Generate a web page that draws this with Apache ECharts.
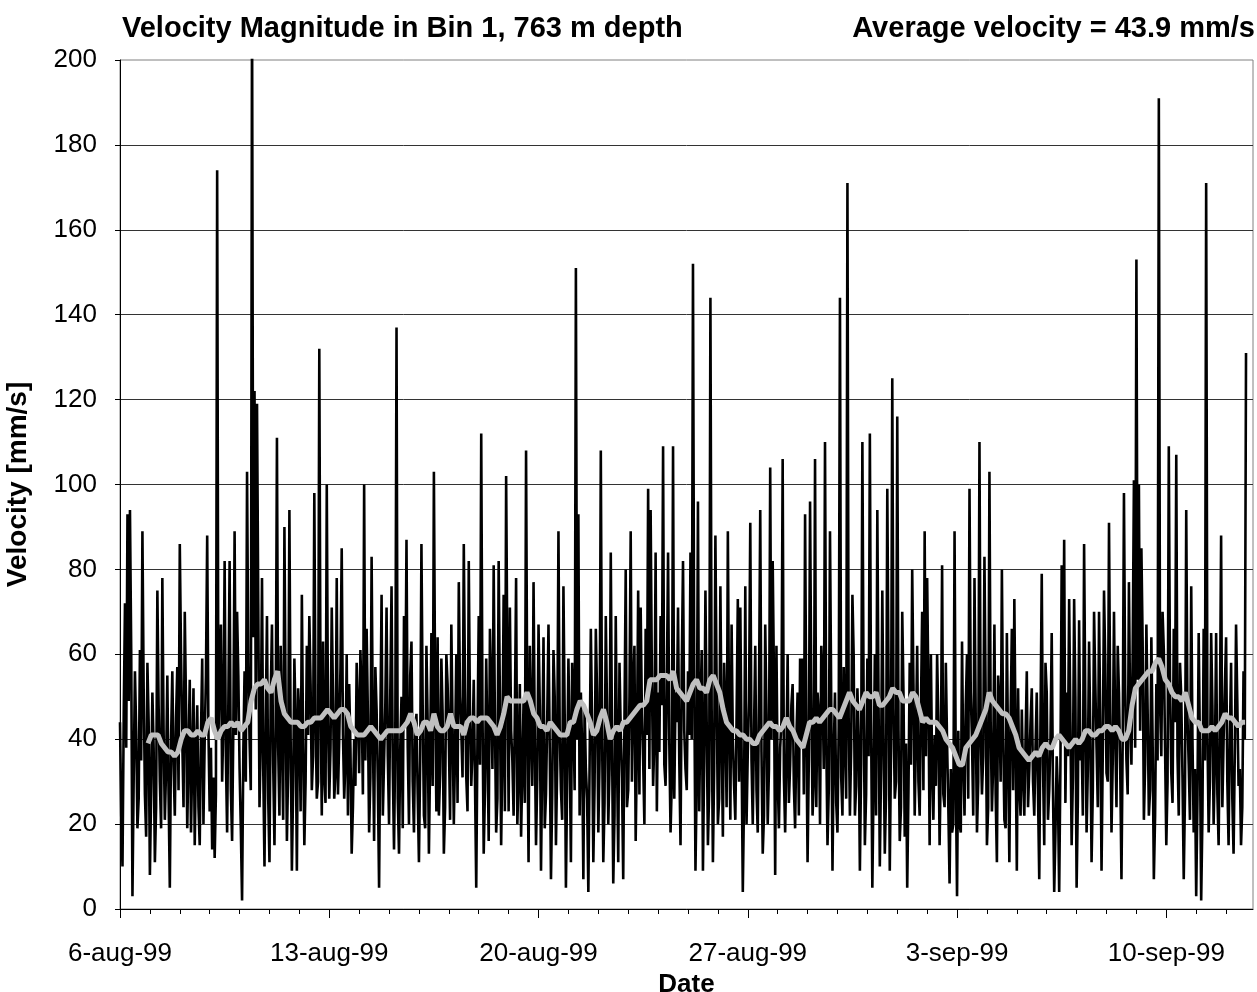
<!DOCTYPE html>
<html>
<head>
<meta charset="utf-8">
<script src="https://cdn.jsdelivr.net/npm/echarts@6/dist/echarts.min.js"></script>
<style>
html,body{margin:0;padding:0;background:#fff;}
#chart{width:1257px;height:992px;}
</style>
</head>
<body>
<div id="chart"></div>
<script>
// ---- data ----
const titleLeft = 'Velocity Magnitude in Bin 1, 763 m depth';
const titleRight = 'Average velocity = 43.9 mm/s';
const xName = 'Date';
const yName = 'Velocity [mm/s]';

// tick labels (days after 6-aug-99)
const weekTicks = [0, 7, 14, 21, 28, 35];
const weekLabels = ['6-aug-99', '13-aug-99', '20-aug-99', '27-aug-99', '3-sep-99', '10-sep-99'];
const xMaxDay = 37.9;

// hourly velocity (mm/s) from 6-aug-99 00:00, split into even and odd hours
const hourDay = 1 / 24;
const velocityEvenHours = [
  44,10,72,93,94,3,56,19,61,89,27,58,8,51,11,75,30,78,21,55,5,56,22,57,86,40,70,19,54,35,15,48,15,59,40,88,23,14,12,174,56,30,82,18,82,16,
  89,70,33,2,56,103,40,215,122,119,24,78,10,69,11,67,15,111,22,40,90,16,94,9,59,9,45,74,15,62,69,28,98,26,132,22,31,100,26,71,26,78,40,85,26,60,
  53,13,40,58,32,49,100,66,18,83,16,47,5,74,35,71,20,76,14,137,13,50,69,87,20,63,18,46,11,86,22,62,13,65,103,23,22,59,13,60,40,67,20,60,77,42,
  86,31,82,29,54,5,69,112,13,59,16,51,81,18,82,15,74,102,23,42,22,78,32,17,49,108,11,44,77,15,67,9,64,27,67,7,61,15,89,28,76,5,59,11,46,151,
  93,51,7,33,4,66,11,66,18,108,11,69,20,84,6,69,11,42,7,80,28,89,52,16,75,71,35,66,99,94,29,84,51,69,109,29,84,18,109,51,71,15,82,33,56,
  84,152,9,96,46,9,75,15,144,11,88,20,76,17,46,89,21,40,21,73,71,4,76,37,91,20,62,18,94,13,67,20,104,82,8,31,38,106,18,60,34,53,19,51,59,
  59,93,11,96,22,106,51,20,53,110,15,89,9,51,18,144,22,39,171,22,74,22,52,9,110,15,59,112,5,60,94,10,75,13,99,9,125,26,116,16,70,17,5,58,80,
  22,62,22,70,89,78,15,33,41,60,15,81,24,39,6,18,89,3,20,63,22,60,99,40,78,18,110,27,83,15,103,23,67,11,48,80,21,65,11,66,73,9,29,47,22,
  56,33,52,22,51,7,79,15,51,28,65,4,36,4,81,87,51,73,15,73,5,68,40,86,18,63,11,70,38,70,9,75,32,91,18,70,24,51,7,98,35,77,34,101,153,
  100,85,21,67,22,64,7,53,191,36,61,15,109,32,66,107,22,50,7,94,34,76,18,3,65,2,66,171,18,65,20,65,15,88,40,64,15,58,13,67,29,15,56,131
];
const velocityOddHours = [
  22,46,38,49,61,31,42,26,35,52,17,44,28,38,24,48,19,42,33,27,40,34,45,28,60,24,48,37,18,52,36,24,41,20,55,42,38,31,27,40,67,44,36,49,28,43,
  41,55,19,37,30,58,28,64,47,72,40,33,45,26,50,34,43,38,62,21,47,33,40,29,44,52,23,39,30,41,53,36,45,30,49,63,25,44,38,50,32,27,57,41,35,22,
  38,24,29,47,61,27,35,46,31,42,57,30,43,22,48,36,51,33,40,26,38,19,44,38,55,30,41,27,35,48,19,44,36,29,51,64,32,46,24,53,21,43,37,25,50,31,
  52,23,45,38,30,41,34,47,28,39,66,33,44,26,49,37,23,58,71,35,46,20,53,33,25,44,62,29,40,31,48,36,19,45,38,27,50,34,42,21,46,31,39,58,28,40,
  22,38,48,26,34,44,29,51,35,42,25,47,33,40,22,36,58,31,45,24,50,30,62,38,27,46,20,41,33,55,40,23,37,48,34,52,39,30,26,44,35,57,42,28,41,
  40,55,30,23,61,35,44,28,47,33,52,26,41,58,24,43,67,29,45,30,38,26,20,49,35,42,28,51,37,22,46,33,40,55,62,19,44,31,36,25,48,29,40,22,38,
  27,44,35,51,30,24,46,62,33,40,28,49,37,25,43,31,57,26,45,38,60,29,41,34,50,27,36,44,30,22,48,33,41,27,55,38,47,30,42,24,51,39,28,34,53,
  40,30,47,28,36,52,60,21,29,44,35,27,58,24,33,20,31,42,18,35,48,26,51,22,45,30,41,36,49,24,44,34,27,55,30,42,19,36,45,28,40,52,22,31,40,
  24,44,30,38,27,45,34,58,21,40,29,18,27,34,40,25,36,44,31,50,26,35,22,47,33,41,28,53,24,44,37,58,30,46,35,41,62,33,40,52,27,45,60,38,54,
  42,63,34,47,28,40,22,35,48,70,38,30,52,25,44,36,58,31,27,45,21,40,33,26,38,22,35,42,30,48,35,27,44,24,52,30,41,26,37,49,33,24,40
];

// running average (grey line)
const avgStartDay = 0.937;
const avgStepDay = 0.11121;
const runningAvg = [
  39,41,41,41,39,38,37,37,36,37,40,42,42,41,41,42,41,41,44,45,42,40,42,43,43,
  44,43,44,42,43,44,49,52,53,53,54,52,51,54,56,49,46,45,44,44,44,43,43,44,44,45,45,45,46,47,46,45,46,47,
  47,46,43,42,41,41,41,42,43,42,41,40,41,42,42,42,42,42,43,44,46,44,41,42,44,44,42,46,43,42,42,43,46,43,
  43,43,41,44,45,45,44,45,45,45,44,43,41,43,46,50,49,49,49,49,49,51,49,46,45,43,43,42,44,43,42,41,41,41,
  44,44,47,49,48,46,44,41,42,45,47,44,40,42,43,42,44,44,45,46,47,48,48,49,54,54,54,55,55,55,54,56,52,51,
  50,49,51,53,54,52,52,51,54,55,53,51,47,44,43,42,42,41,41,40,40,39,39,41,42,43,44,43,43,42,43,45,43,42,
  40,39,38,41,44,44,45,44,45,46,47,47,46,45,47,49,51,49,48,47,49,51,50,50,51,48,48,49,50,52,51,51,49,49,
  49,51,50,47,44,45,44,44,44,43,42,40,39,38,36,34,34,38,39,40,41,43,45,47,51,49,48,47,46,46,45,43,41,38,
  37,36,35,36,37,36,38,39,38,38,40,41,40,39,38,39,40,39,40,42,42,41,41,42,42,43,43,42,43,42,40,40,42,48,
  52,53,54,55,56,56,58,59,57,54,53,51,50,50,49,51,48,45,44,44,42,42,42,43,42,43,44,46,45,45,44,43,44,44
];

// ---- chart ----
const FONT = 'Liberation Sans, Arial, sans-serif';
const dayTicks = [];
for (let d = 0; d <= Math.floor(xMaxDay); d++) dayTicks.push(d);

const velData = [];
velocityEvenHours.forEach((v, i) => {
  velData.push([2 * i * hourDay, v]);
  if (i < velocityOddHours.length) velData.push([(2 * i + 1) * hourDay, velocityOddHours[i]]);
});
const avgData = runningAvg.map((v, i) => [avgStartDay + i * avgStepDay, v]);

const chart = echarts.init(document.getElementById('chart'), null, {renderer: 'canvas'});
chart.setOption({
  animation: false,
  backgroundColor: '#fff',
  title: [
    {text: titleLeft, left: 122, top: 14, padding: 0,
     textStyle: {fontFamily: FONT, fontSize: 29, fontWeight: 'bold', color: '#000'}},
    {text: titleRight, right: 2, top: 14, padding: 0,
     textStyle: {fontFamily: FONT, fontSize: 29, fontWeight: 'bold', color: '#000'}}
  ],
  grid: {left: 120, right: 4, top: 60, bottom: 83, show: true, outerBoundsMode: 'none', containLabel: false,
         borderColor: '#808080', borderWidth: 1, backgroundColor: 'transparent'},
  xAxis: [
    {
      type: 'value', min: 0, max: xMaxDay, position: 'bottom',
      axisLine: {show: true, lineStyle: {color: '#000', width: 1}},
      axisTick: {show: true, customValues: weekTicks, length: 9, lineStyle: {color: '#000', width: 1}},
      axisLabel: {customValues: weekTicks, margin: 32, fontFamily: FONT, fontSize: 26, color: '#000',
        formatter: function (v) { const k = weekTicks.indexOf(Math.round(v)); return k >= 0 ? weekLabels[k] : ''; }},
      splitLine: {show: false},
      name: xName, nameLocation: 'middle', nameGap: 60,
      nameTextStyle: {fontFamily: FONT, fontSize: 26, fontWeight: 'bold', color: '#000'}
    },
    {
      type: 'value', min: 0, max: xMaxDay, position: 'bottom',
      axisLine: {show: false},
      axisTick: {show: true, customValues: dayTicks, length: 5, lineStyle: {color: '#000', width: 1}},
      axisLabel: {show: false},
      splitLine: {show: false}
    }
  ],
  yAxis: {
    type: 'value', min: 0, max: 200, interval: 20,
    axisLine: {show: true, lineStyle: {color: '#000', width: 1}},
    axisTick: {show: true, length: 5, lineStyle: {color: '#000'}},
    axisLabel: {margin: 23, fontFamily: FONT, fontSize: 26, color: '#000'},
    splitLine: {show: true, showMaxLine: false, lineStyle: {color: '#333', width: 1}},
    name: yName, nameLocation: 'middle', nameRotate: 90, nameGap: 88,
    nameTextStyle: {fontFamily: FONT, fontSize: 28, fontWeight: 'bold', color: '#000'}
  },
  series: [
    {type: 'line', xAxisIndex: 0, data: velData, showSymbol: false, symbol: 'none',
     lineStyle: {color: '#000', width: 2.6}, clip: true, z: 2},
    {type: 'line', xAxisIndex: 0, data: avgData, showSymbol: false, symbol: 'none',
     lineStyle: {color: '#c0c0c0', width: 5}, clip: true, z: 3}
  ]
});
</script>
</body>
</html>
